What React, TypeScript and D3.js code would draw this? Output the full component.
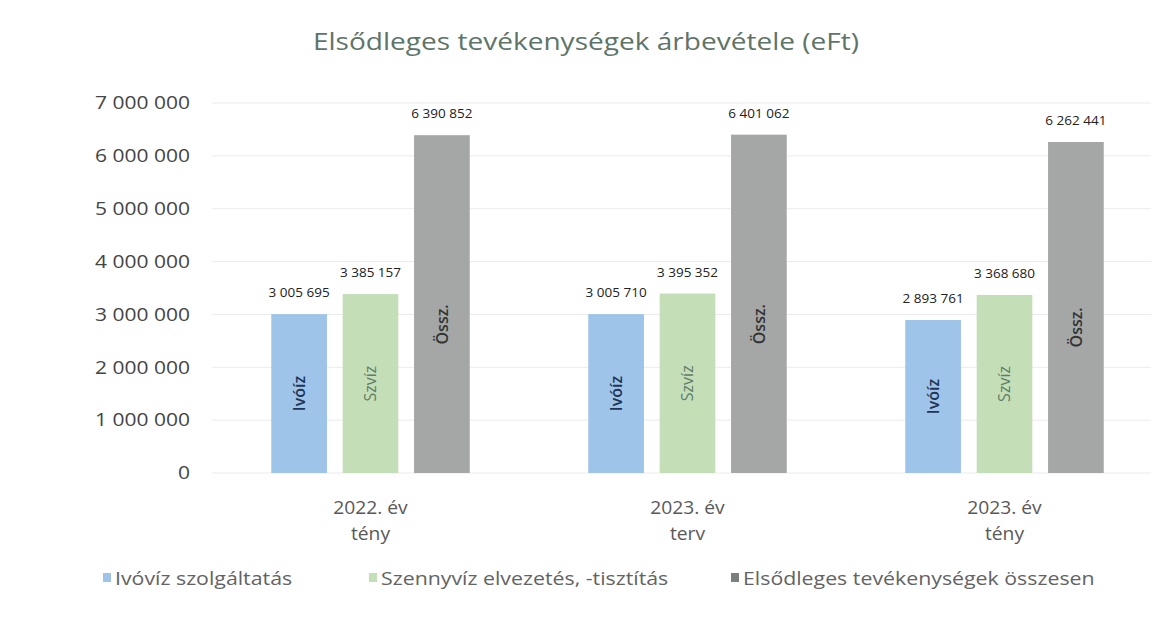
import React, {useEffect, useRef} from 'react';
import * as d3 from 'd3';

const title = 'Elsődleges tevékenységek árbevétele (eFt)';
const categories = ['2022. év|tény', '2023. év|terv', '2023. év|tény'];
const seriesNames = ['Ivóvíz szolgáltatás', 'Szennyvíz elvezetés, -tisztítás', 'Elsődleges tevékenységek összesen'];
const shortNames = ['Ivóíz', 'Szvíz', 'Össz.'];
const ivoviz = [3005695, 3005710, 2893761];
const szennyviz = [3385157, 3395352, 3368680];
const osszesen = [6390852, 6401062, 6262441];
const yTicks = [0, 1000000, 2000000, 3000000, 4000000, 5000000, 6000000, 7000000];

const colors = ['#9ec4ea', '#c4dfb8', '#a4a7a6'];
const innerColors = ['#1f3556', '#5f7d6a', '#333333'];
// where the rotated name sits inside each bar, as a share of its height
const innerPos = [0.5, 0.5, 0.44];

const W = 1163;
const H = 624;
const margin = {top: 103, right: 0, bottom: 151, left: 212};
const font = '"Open Sans", sans-serif';

const fmt = (v: number) => d3.format(',')(v).replace(/,/g, ' ');

const App: React.FC = () => {
    const svgRef = useRef<SVGSVGElement>(null);

    useEffect(() => {
        document.body.style.margin = '0';
        const svg = d3.select(svgRef.current);
        svg.selectAll('*').remove();

        // text that is a bit wider than the font draws it (the scan is stretched)
        const label = (x: number, y: number, txt: string, size: number, sx: number,
                       anchor: string, fill: string) =>
            svg.append('text')
                .attr('transform', `translate(${x},${y}) scale(${sx},1)`)
                .attr('text-anchor', anchor)
                .style('font-family', font)
                .style('font-size', `${size}px`)
                .attr('fill', fill)
                .text(txt);

        const values = [ivoviz, szennyviz, osszesen];

        const x0 = d3.scaleBand<string>()
            .domain(categories)
            .range([margin.left, W - margin.right]);

        const x1 = d3.scaleBand<number>()
            .domain([0, 1, 2])
            .range([0, x0.bandwidth()])
            .paddingInner(0.22)
            .paddingOuter(0.83);

        const y = d3.scaleLinear()
            .domain([0, 7000000])
            .range([H - margin.bottom, margin.top]);

        svg.append('rect')
            .attr('width', W).attr('height', H)
            .attr('fill', '#fff');

        // title
        label(586, 50, title, 23, 1.22, 'middle', '#5e7468');

        // gridlines
        svg.append('g')
            .selectAll('line')
            .data(yTicks)
            .enter().append('line')
            .attr('x1', margin.left).attr('x2', W - 12)
            .attr('y1', d => y(d)).attr('y2', d => y(d))
            .attr('stroke', '#ebebeb')
            .attr('stroke-width', 1);

        // y labels
        yTicks.forEach(t => label(190, y(t) + 6.3, fmt(t), 17.5, 1.2, 'end', '#454545'));

        // bars
        categories.forEach((cat, ci) => {
            const g = svg.append('g').attr('transform', `translate(${x0(cat)},0)`);
            values.forEach((arr, si) => {
                const v = arr[ci];
                const bx = x1(si)!;
                const bw = x1.bandwidth();
                g.append('rect')
                    .attr('x', bx).attr('y', y(v))
                    .attr('width', bw).attr('height', y(0) - y(v))
                    .attr('fill', colors[si]);
                g.append('text')
                    .attr('x', bx + bw / 2).attr('y', y(v) - 17)
                    .attr('text-anchor', 'middle')
                    .style('font-family', font)
                    .style('font-size', '13.5px')
                    .attr('fill', '#222')
                    .text(fmt(v));
                const cy = y(v * innerPos[si]);
                g.append('text')
                    .attr('transform', `translate(${bx + bw / 2},${cy}) rotate(-90)`)
                    .attr('text-anchor', 'middle')
                    .attr('dy', '0.35em')
                    .style('font-family', font)
                    .style('font-size', '16px')
                    .style('font-weight', si === 1 ? 400 : 600)
                    .attr('fill', innerColors[si])
                    .text(shortNames[si]);
            });
            const parts = cat.split('|');
            parts.forEach((p, pi) => {
                label(x0(cat)! + x0.bandwidth() / 2, 514 + pi * 26, p, 17.5, 1.1, 'middle', '#595959');
            });
        });

        // legend
        const legendX = [103, 369, 731];
        seriesNames.forEach((name, i) => {
            svg.append('rect')
                .attr('x', legendX[i]).attr('y', 573)
                .attr('width', 8).attr('height', 9)
                .attr('fill', i === 2 ? '#7a7f7d' : colors[i]);
            label(legendX[i] + 12, 584.5, name, 18, 1.185, 'start', '#636363');
        });
    }, []);

    return <svg ref={svgRef} width={W} height={H} style={{display: 'block'}}/>;
};

export default App;
